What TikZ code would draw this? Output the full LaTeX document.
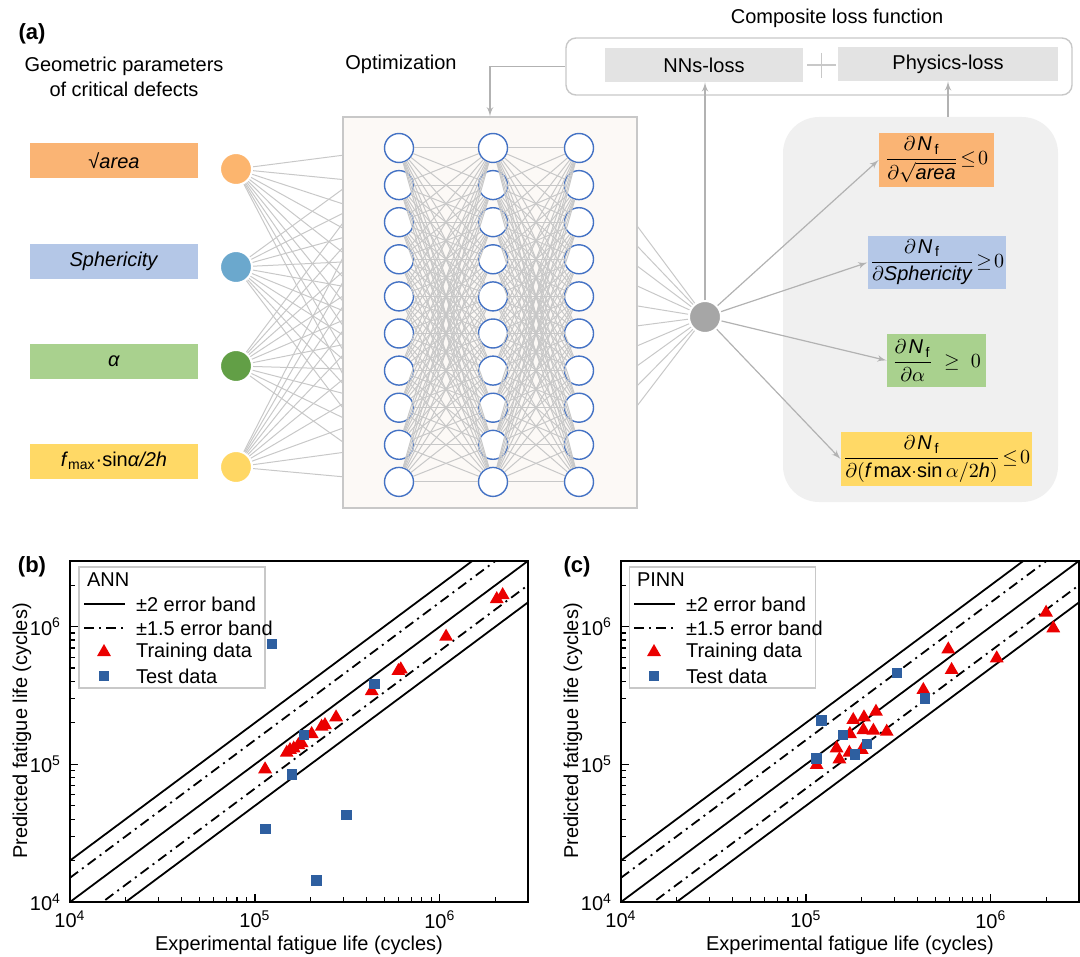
\documentclass[tikz,border=0pt]{standalone}
\usepackage{fontspec}
\usepackage{amsmath}
\setmainfont{Liberation Sans}
\usetikzlibrary{calc}
\usetikzlibrary{arrows}
\usetikzlibrary{positioning}

\pgfdeclarelayer{back}
\pgfdeclarelayer{bg}
\pgfsetlayers{back,bg,main}

\definecolor{wire}{RGB}{200,200,200}
\definecolor{arrowg}{RGB}{178,178,178}
\definecolor{neuronblue}{RGB}{68,114,196}
\definecolor{areabox}{RGB}{250,180,116}
\definecolor{areacirc}{RGB}{252,181,110}
\definecolor{sphbox}{RGB}{180,199,231}
\definecolor{sphcirc}{RGB}{107,168,205}
\definecolor{alphabox}{RGB}{169,209,142}
\definecolor{alphacirc}{RGB}{98,159,70}
\definecolor{fmaxbox}{RGB}{255,217,102}
\definecolor{fmaxcirc}{RGB}{255,215,100}
\definecolor{panelg}{RGB}{240,240,240}
\definecolor{lossg}{RGB}{227,227,227}
\definecolor{netbg}{RGB}{252,249,246}
\definecolor{outg}{RGB}{166,166,166}
\definecolor{trainred}{RGB}{235,0,0}
\definecolor{testblue}{RGB}{46,95,160}

\tikzset{
  wireline/.style={wire, line width=0.5pt},
  garrow/.style={draw=arrowg, line width=0.6pt, ->, >=latex'},
  inlbl/.style={minimum width=84pt, minimum height=17.5pt, inner sep=0pt},
  incirc/.style={circle, minimum size=16pt, inner sep=0pt, draw=white, line width=1pt},
  neuron/.style={circle, draw=neuronblue, fill=white, line width=0.7pt, minimum size=14.5pt, inner sep=0pt},
  lossbox/.style={fill=lossg, minimum height=17pt, inner sep=0pt},
  conbox/.style={inner sep=1pt},
  band/.style={black, line width=0.9pt},
  dashdot/.style={dash pattern=on 5pt off 2.5pt on 1pt off 2.5pt},
  frame/.style={black, line width=1.1pt},
  tick/.style={black, line width=0.6pt},
  legbox/.style={draw=wire, fill=white, line width=0.6pt, minimum width=93pt, minimum height=60.5pt},
  panlabel/.style={font=\fontsize{11}{13}\selectfont\bfseries}
}
\newcommand{\dNf}{\partial\mkern2mu\textit{N}_{\,\text{f}}\rule[-2.5pt]{0pt}{1pt}}

\begin{document}
\begin{tikzpicture}[x=0.5pt,y=-0.5pt,font=\fontsize{10}{12.5}\selectfont]
\useasboundingbox (0,0) rectangle (1080,957);

% ---------- (a) ----------
\node[panlabel] (lab-a) at (32,34) {(a)};
\node[align=center] (geo) at (124,77) {Geometric parameters\\of critical defects};
\node (opt) at (401,64) {Optimization};
\node (comptitle) at (837,18) {Composite loss function};

% composite loss function
\node[draw=wire, line width=0.7pt, rounded corners=5pt, fill=white,
      minimum width=253pt, minimum height=28.5pt] (comp) at (819,66.5) {};
\node[lossbox, minimum width=99pt] (nnloss) at (704,65) {NNs-loss};
\node[lossbox, minimum width=110pt] (phyloss) at (948,64) {Physics-loss};
\draw[wireline, line width=0.7pt] (807,65) -- (836,65) (821.5,53) -- (821.5,78);

% input parameters
\node[inlbl, fill=areabox] (l1) at (114,160.5) {√\textit{area}};
\node[inlbl, fill=sphbox] (l2) at (114,261) {\textit{Sphericity}};
\node[inlbl, fill=alphabox] (l3) at (114,361) {\textit{α}};
\node[inlbl, fill=fmaxbox] (l4) at (114,461) {\textit{f}\textsubscript{max}·sin\textit{α/2h}};
\node[incirc, fill=areacirc] (i1) at (236,169) {};
\node[incirc, fill=sphcirc] (i2) at (236,267) {};
\node[incirc, fill=alphacirc] (i3) at (236,366) {};
\node[incirc, fill=fmaxcirc] (i4) at (236,467) {};

% hidden layers
\foreach \col/\x in {1/399,2/493,3/579}
  \foreach \row in {1,...,10}
    \node[neuron] (n\col-\row) at (\x,{148+(\row-1)*37.1}) {};
\node[circle, fill=outg, draw=white, line width=1pt, minimum size=16pt, inner sep=0pt] (out) at (705,317) {};

\begin{pgfonlayer}{bg}
  \node[draw=wire, fill=netbg, line width=0.7pt, minimum width=147pt, minimum height=195.5pt] (net) at (490,312.5) {};
  \node[fill=panelg, rounded corners=18pt, minimum width=137.5pt, minimum height=192.5pt] (cons) at (920.5,309.5) {};
\end{pgfonlayer}
\begin{pgfonlayer}{back}
  \foreach \i in {1,...,4}
    \foreach \row in {1,...,10}
      \draw[wireline] (i\i) -- (n1-\row);
  \foreach \row in {1,...,10}
    \draw[wireline] (n3-\row) -- (out);
\end{pgfonlayer}
\foreach \row in {1,...,10}
  \foreach \s in {1,...,10} {
    \draw[wireline] (n1-\row) -- (n2-\s);
    \draw[wireline] (n2-\row) -- (n3-\s);
  }

% loss feedback
\draw[garrow] (comp.west) -| (net.north);
\draw[garrow] (out) -- (out |- nnloss.south);
\draw[garrow] (cons.north -| phyloss) -- (phyloss.south);

% physical constraints
\node[conbox, fill=areabox, minimum width=57.5pt, minimum height=27pt] (c1) at (936.5,160)
  {$\dfrac{\dNf}{\partial\sqrt{\textit{area}}}\!\leq\! 0$};
\node[conbox, fill=sphbox, minimum width=68pt, minimum height=26.5pt] (c2) at (937,262.5)
  {$\dfrac{\dNf}{\partial \textit{Sphericity}}\!\geq\! 0$};
\node[conbox, fill=alphabox, minimum width=49.5pt, minimum height=26.5pt] (c3) at (936.5,360.5)
  {$\dfrac{\dNf}{\partial \alpha}\ \geq\ 0$};
\node[conbox, fill=fmaxbox, minimum width=90.5pt, minimum height=27pt] (c4) at (936.5,459)
  {$\dfrac{\dNf}{\partial(\textit{f}\,\mathrm{max}{\cdot}\mathrm{sin}\,\alpha/2\textit{h})}\!\leq\! 0$};
\foreach \k in {1,...,4}
  \draw[garrow] (out) -- (c\k.west);

% ---------- (b) ANN ----------
\node[panlabel] (lab-b) at (32,567) {(b)};
\begin{scope}[shift={(70,902)}, x=92.45pt, y=68.85pt]
  \begin{scope}
    \clip (0,0) rectangle (2.477,2.477);
    \foreach \k in {-0.301,0,0.301}
      \draw[band] (0,\k) -- (2.477,2.477+\k);
    \foreach \k in {-0.176,0.176}
      \draw[band, dashdot] (0,\k) -- (2.477,2.477+\k);
    \foreach \d in {0,1,2} {
      \foreach \m in {2,...,9} {
        \draw[tick] ({\d+log10(\m)},0) -- ++(0,2.5pt);
        \draw[tick] (0,{\d+log10(\m)}) -- ++(2.5pt,0);
      }
      \draw[tick] (\d,0) -- ++(0,4pt);
      \draw[tick] (0,\d) -- ++(4pt,0);
    }
  \end{scope}
  % training data
  \foreach \u/\v in {1.055/0.964, 1.172/1.084, 1.190/1.104, 1.210/1.115, 1.235/1.140, 1.253/1.153,
                     1.307/1.220, 1.361/1.273, 1.379/1.285, 1.439/1.341, 1.632/1.532, 1.776/1.678,
                     1.789/1.690, 2.034/1.927, 2.308/2.200, 2.340/2.229}
    \fill[trainred] (\u,\v) +(90:4pt) -- +(210:4pt) -- +(330:4pt) -- cycle;
  % test data
  \foreach \u/\v in {1.091/1.874, 1.646/1.583, 1.266/1.213, 1.199/0.927, 1.496/0.632,
                     1.058/0.532, 1.333/0.155}
    \fill[testblue] (\u,\v) +(-2.6pt,-2.6pt) rectangle +(2.6pt,2.6pt);
  \draw[frame] (0,0) rectangle (2.477,2.477);
  \foreach \d/\e in {0/4,1/5,2/6} {
    \node[below=1pt] (bx\e) at (\d,0) {10\textsuperscript{\e}};
    \node[left=1pt] (by\e) at (0,\d) {10\textsuperscript{\e}};
  }
\end{scope}
\node[legbox] (legb) at (172,627.5) {};
\node[anchor=west] (legb-t) at (80,580) {ANN};
\draw[band] (84,604) -- (125,604);
\node[anchor=west] (legb-1) at (129,604) {±2 error band};
\draw[band, dashdot] (84,628) -- (125,628);
\node[anchor=west] (legb-2) at (129,628) {±1.5 error band};
\fill[trainred] (104,652) +(90:4pt) -- +(210:4pt) -- +(330:4pt) -- cycle;
\node[anchor=west] (legb-3) at (129,652) {Training data};
\fill[testblue] (104,676) +(-2.6pt,-2.6pt) rectangle +(2.6pt,2.6pt);
\node[anchor=west] (legb-4) at (129,676) {Test data};
\node[rotate=90] (ylab-b) at (22,731) {Predicted fatigue life (cycles)};
\node (xlab-b) at (299,945) {Experimental fatigue life (cycles)};

% ---------- (c) PINN ----------
\node[panlabel] (lab-c) at (577,567) {(c)};
\begin{scope}[shift={(621,902)}, x=92.45pt, y=68.85pt]
  \begin{scope}
    \clip (0,0) rectangle (2.477,2.477);
    \foreach \k in {-0.301,0,0.301}
      \draw[band] (0,\k) -- (2.477,2.477+\k);
    \foreach \k in {-0.176,0.176}
      \draw[band, dashdot] (0,\k) -- (2.477,2.477+\k);
    \foreach \d in {0,1,2} {
      \foreach \m in {2,...,9} {
        \draw[tick] ({\d+log10(\m)},0) -- ++(0,2.5pt);
        \draw[tick] (0,{\d+log10(\m)}) -- ++(2.5pt,0);
      }
      \draw[tick] (\d,0) -- ++(0,4pt);
      \draw[tick] (0,\d) -- ++(4pt,0);
    }
  \end{scope}
  % training data
  \foreach \u/\v in {1.058/0.995, 1.181/1.036, 1.166/1.116, 1.235/1.084, 1.302/1.104, 1.238/1.220,
                     1.256/1.322, 1.314/1.341, 1.379/1.382, 1.311/1.249, 1.365/1.244, 1.437/1.237,
                     1.635/1.540, 1.770/1.835, 1.788/1.685, 2.032/1.770, 2.299/2.101, 2.338/1.988}
    \fill[trainred] (\u,\v) +(90:4pt) -- +(210:4pt) -- +(330:4pt) -- cycle;
  % test data
  \foreach \u/\v in {1.085/1.317, 1.199/1.213, 1.058/1.041, 1.329/1.147, 1.266/1.072,
                     1.494/1.661, 1.644/1.479}
    \fill[testblue] (\u,\v) +(-2.6pt,-2.6pt) rectangle +(2.6pt,2.6pt);
  \draw[frame] (0,0) rectangle (2.477,2.477);
  \foreach \d/\e in {0/4,1/5,2/6} {
    \node[below=1pt] (cx\e) at (\d,0) {10\textsuperscript{\e}};
    \node[left=1pt] (cy\e) at (0,\d) {10\textsuperscript{\e}};
  }
\end{scope}
\node[legbox] (legc) at (722.5,627.5) {};
\node[anchor=west] (legc-t) at (630,580) {PINN};
\draw[band] (634,604) -- (675,604);
\node[anchor=west] (legc-1) at (679,604) {±2 error band};
\draw[band, dashdot] (634,628) -- (675,628);
\node[anchor=west] (legc-2) at (679,628) {±1.5 error band};
\fill[trainred] (654,652) +(90:4pt) -- +(210:4pt) -- +(330:4pt) -- cycle;
\node[anchor=west] (legc-3) at (679,652) {Training data};
\fill[testblue] (654,676) +(-2.6pt,-2.6pt) rectangle +(2.6pt,2.6pt);
\node[anchor=west] (legc-4) at (679,676) {Test data};
\node[rotate=90] (ylab-c) at (573,731) {Predicted fatigue life (cycles)};
\node (xlab-c) at (850,945) {Experimental fatigue life (cycles)};
\end{tikzpicture}
\end{document}
